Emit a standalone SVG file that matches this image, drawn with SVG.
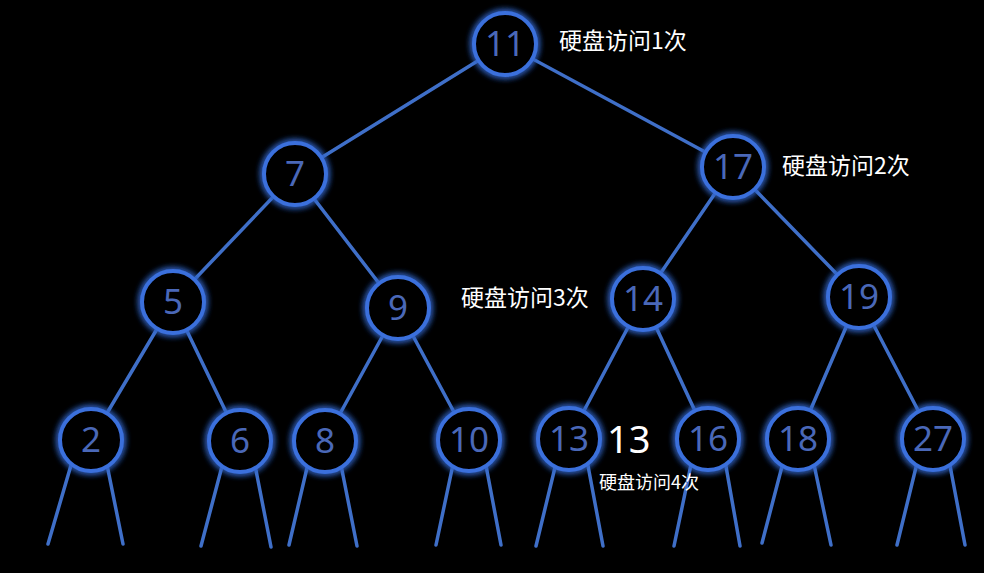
<svg xmlns="http://www.w3.org/2000/svg" width="984" height="573" viewBox="0 0 984 573">
<defs>
<filter id="glow" x="-50%" y="-50%" width="200%" height="200%">
<feGaussianBlur in="SourceGraphic" stdDeviation="3.5" result="b"/>
<feMerge><feMergeNode in="b"/><feMergeNode in="b"/><feMergeNode in="SourceGraphic"/></feMerge>
</filter>
<style>
.e{stroke:#3f6fc8;stroke-width:3.5;fill:none;stroke-linecap:round}
.n circle{fill:#000;stroke:#3a6fdc;stroke-width:4;filter:url(#glow)}
.n text{fill:#4a68b8;font-family:"Noto Sans","DejaVu Sans",sans-serif;font-size:35px;text-anchor:middle}
.lb{fill:#fff;font-family:"Noto Sans CJK SC","Noto Sans",sans-serif;font-size:23px}
</style>
</defs>
<rect width="984" height="573" fill="#000"/>
<g id="connectors">
<line class="e" x1="505" y1="44" x2="295" y2="174"/>
<line class="e" x1="505" y1="44" x2="733" y2="167"/>
<line class="e" x1="295" y1="174" x2="173" y2="302"/>
<line class="e" x1="295" y1="174" x2="398" y2="308"/>
<line class="e" x1="733" y1="167" x2="643" y2="299"/>
<line class="e" x1="733" y1="167" x2="859" y2="297"/>
<line class="e" x1="173" y1="302" x2="91" y2="440"/>
<line class="e" x1="173" y1="302" x2="240" y2="441"/>
<line class="e" x1="398" y1="308" x2="325" y2="441"/>
<line class="e" x1="398" y1="308" x2="469" y2="440"/>
<line class="e" x1="643" y1="299" x2="569" y2="439"/>
<line class="e" x1="643" y1="299" x2="708" y2="439"/>
<line class="e" x1="859" y1="297" x2="798" y2="439"/>
<line class="e" x1="859" y1="297" x2="933" y2="439"/>
<line class="e" x1="74" y1="455" x2="48" y2="544"/>
<line class="e" x1="105" y1="455" x2="123" y2="544"/>
<line class="e" x1="225" y1="455" x2="201" y2="546"/>
<line class="e" x1="253" y1="455" x2="271" y2="547"/>
<line class="e" x1="310" y1="455" x2="289" y2="545"/>
<line class="e" x1="339" y1="455" x2="357" y2="546"/>
<line class="e" x1="455" y1="455" x2="436" y2="545"/>
<line class="e" x1="484" y1="455" x2="501" y2="545"/>
<line class="e" x1="558" y1="455" x2="536" y2="546"/>
<line class="e" x1="586" y1="455" x2="603" y2="546"/>
<line class="e" x1="693" y1="455" x2="674" y2="546"/>
<line class="e" x1="724" y1="455" x2="740" y2="546"/>
<line class="e" x1="785" y1="455" x2="762" y2="543"/>
<line class="e" x1="812" y1="455" x2="831" y2="545"/>
<line class="e" x1="919" y1="455" x2="897" y2="545"/>
<line class="e" x1="948" y1="455" x2="965" y2="545"/>
</g>
<g id="n11" class="n"><circle cx="505" cy="44" r="31"/><text x="505" y="56">11</text></g>
<g id="n7" class="n"><circle cx="295" cy="174" r="31"/><text x="295" y="186">7</text></g>
<g id="n17" class="n"><circle cx="733" cy="167" r="31"/><text x="733" y="179">17</text></g>
<g id="n5" class="n"><circle cx="173" cy="302" r="31"/><text x="173" y="314">5</text></g>
<g id="n9" class="n"><circle cx="398" cy="308" r="31"/><text x="398" y="320">9</text></g>
<g id="n14" class="n"><circle cx="643" cy="299" r="31"/><text x="643" y="311">14</text></g>
<g id="n19" class="n"><circle cx="859" cy="297" r="31"/><text x="859" y="309">19</text></g>
<g id="n2" class="n"><circle cx="91" cy="440" r="31"/><text x="91" y="452">2</text></g>
<g id="n6" class="n"><circle cx="240" cy="441" r="31"/><text x="240" y="453">6</text></g>
<g id="n8" class="n"><circle cx="325" cy="441" r="31"/><text x="325" y="453">8</text></g>
<g id="n10" class="n"><circle cx="469" cy="440" r="31"/><text x="469" y="452">10</text></g>
<g id="n13" class="n"><circle cx="569" cy="439" r="31"/><text x="569" y="451">13</text></g>
<g id="n16" class="n"><circle cx="708" cy="439" r="31"/><text x="708" y="451">16</text></g>
<g id="n18" class="n"><circle cx="798" cy="439" r="31"/><text x="798" y="451">18</text></g>
<g id="n27" class="n"><circle cx="933" cy="439" r="31"/><text x="933" y="451">27</text></g>
<g id="labels">
<text class="lb" x="559" y="49">硬盘访问1次</text>
<text class="lb" x="782" y="174">硬盘访问2次</text>
<text class="lb" x="461" y="306">硬盘访问3次</text>
<text x="607" y="453" fill="#fff" font-family="Noto Sans, sans-serif" font-size="38">13</text>
<text x="599" y="489" fill="#fff" font-family="Noto Sans CJK SC, Noto Sans, sans-serif" font-size="18">硬盘访问4次</text>
</g>
</svg>
